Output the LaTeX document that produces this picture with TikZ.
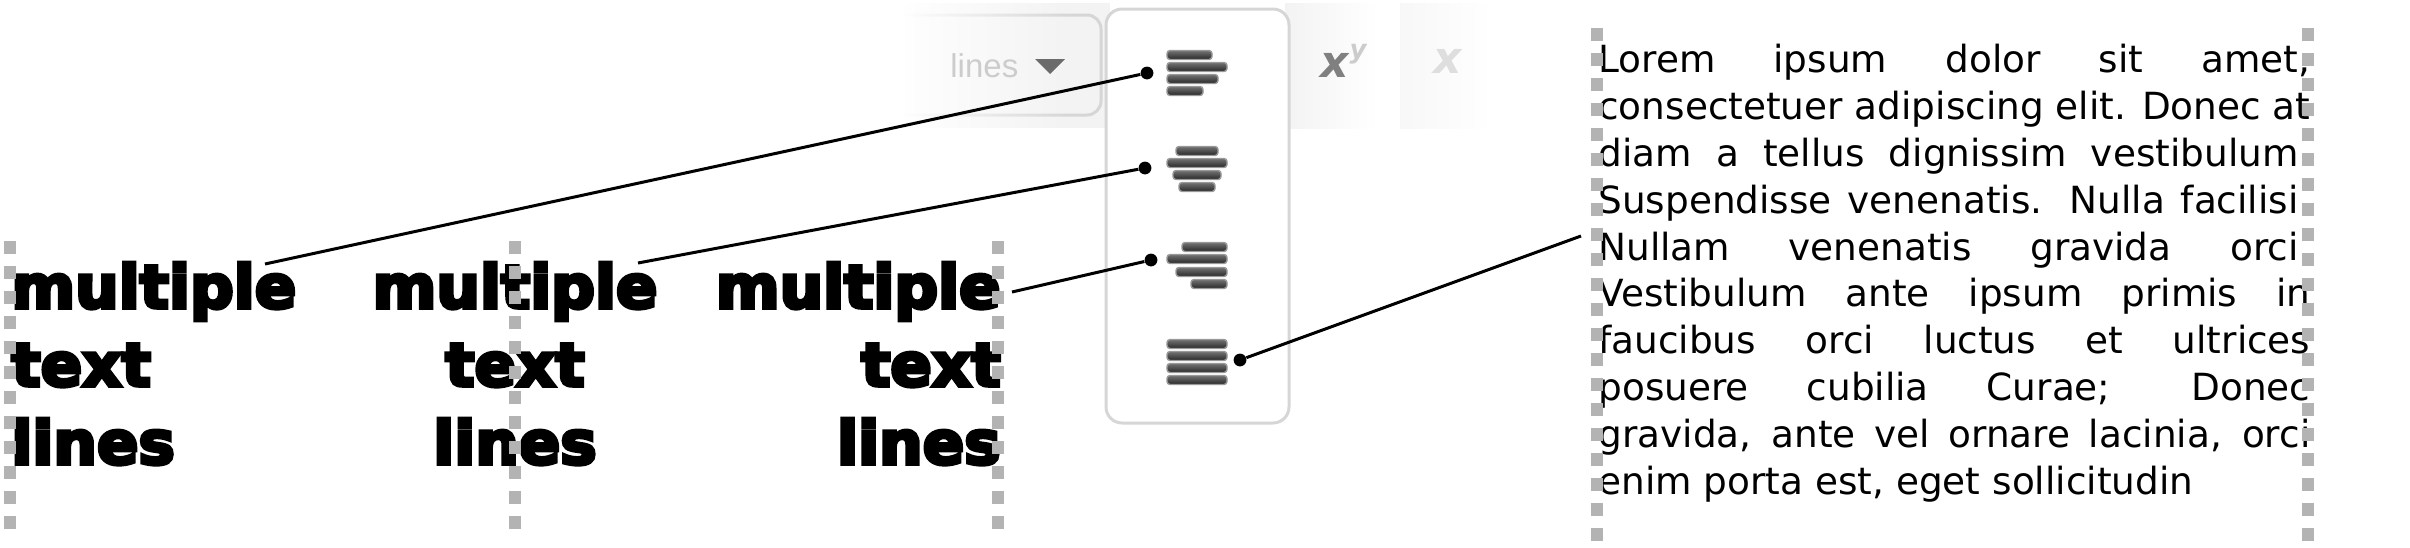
\documentclass[tikz,border=0pt]{standalone}
\usepackage{fontspec}
\usetikzlibrary{fadings}
\setmainfont{DejaVu Sans}
\newfontfamily\heavyfont[FakeBold=6,FakeStretch=1.02]{DejaVu Sans Bold}
\newfontfamily\barefont{Liberation Sans}
\definecolor{guidegray}{HTML}{B3B3B3}
\definecolor{panelgray}{HTML}{D6D6D6}
\definecolor{stripgray}{HTML}{F3F3F3}
\tikzset{
  guide/.style={draw=guidegray,line width=6pt,dash pattern=on 6.25pt off 6.25pt},
  heavytext/.style={inner sep=0pt,font=\heavyfont\fontsize{30}{39}\selectfont},
  loremtext/.style={inner sep=0pt,text width=356pt,align=justify,font=\fontsize{18.7}{23.4}\selectfont},
  pinline/.style={draw=black,line width=1.5pt},
  pindot/.style={circle,fill=black,inner sep=0pt,minimum size=6.4pt},
  iconbar/.style={draw=black!40,line width=0.7pt,rounded corners=1.5pt,top color=black!55,bottom color=black!85},
  tooltext/.style={inner sep=0pt}
}
\begin{document}
\begin{tikzpicture}[x=0.5pt,y=0.5pt,yscale=-1,xscale=1]
        \useasboundingbox (0,0) rectangle (2410,547);

        %Toolbar strip
        \fill [stripgray] (905,3) rectangle (1110,128);
        \draw [panelgray,line width=1.5pt,rounded corners=7pt] (903,15) -- (1101,15) -- (1101,115) -- (903,115);
        \fill [white,path fading=east] (900,0) rectangle (1070,132);
        \fill [left color=stripgray,right color=white] (1285,3) rectangle (1378,128);
        \fill [left color=black!3,right color=white] (1400,3) rectangle (1492,128);

        % Text Node
        \node [tooltext,text=black!20,font=\barefont\fontsize{16.5}{20}\selectfont,anchor=base west] (lineslabel) at (950,77) {lines};
        \node [tooltext,text=black!50,font=\bfseries\itshape\fontsize{22}{26}\selectfont] (powerx) at (1335,65) {x};
        \node [tooltext,text=black!20,font=\bfseries\itshape\fontsize{13}{16}\selectfont] (powery) at (1358,54) {y};
        \node [tooltext,text=black!13,font=\bfseries\itshape\fontsize{22}{26}\selectfont] (plainx) at (1448,61) {x};

        %Dropdown triangle
        \fill [black!58] (1035,59) -- (1065,59) -- (1050,74) -- cycle;

        %Rounded Rect
        \draw [panelgray,fill=white,line width=1.5pt,rounded corners=8pt] (1106,9) rectangle (1289,423);

        %Icon bars
        \foreach \barleft/\barright/\bary in {1167/1212/55,1167/1227/67,1167/1218/79,1167/1203/91,
                                              1176/1218/151,1167/1227/163,1173/1221/175,1179/1215/187,
                                              1182/1227/247,1167/1227/259,1176/1227/272,1191/1227/284,
                                              1167/1227/344,1167/1227/356,1167/1227/368,1167/1227/380}
            \path [iconbar] (\barleft,\bary-4.5) rectangle (\barright,\bary+4.5);

        % Text Node
        \node [heavytext,align=left,anchor=north west] (leftblock) at (11,262) {multiple\\text\\lines};
        \node [heavytext,align=center,anchor=north] (centerblock) at (515,262) {multiple\\text\\lines};
        \node [heavytext,align=right,anchor=north east] (rightblock) at (1001,262) {multiple\\text\\lines};
        \node [loremtext,anchor=north west] (loremblock) at (1598,44) {\hbadness=10000 Lorem ipsum dolor sit amet,\linebreak consectetuer adipiscing elit. Donec at\linebreak diam a tellus dignissim vestibulum.\linebreak Suspendisse venenatis. Nulla facilisi.\linebreak Nullam venenatis gravida orci.\linebreak Vestibulum ante ipsum primis in\linebreak faucibus orci luctus et ultrices\linebreak posuere cubilia Curae; Donec\linebreak gravida, ante vel ornare lacinia, orci\linebreak enim porta est, eget sollicitudin};

        %Guides
        \foreach \guidex in {10,515,998}
            \draw [guide] (\guidex,241) -- (\guidex,528.5);
        \foreach \guidex in {1597,2308}
            \draw [guide] (\guidex,28) -- (\guidex,541);

        %Connector ends
        \node [pindot] (dotleft) at (1147,73) {};
        \node [pindot] (dotcenter) at (1145,168) {};
        \node [pindot] (dotright) at (1151,260) {};
        \node [pindot] (dotjustify) at (1240,360) {};
        \coordinate (fromleft) at (265,264);
        \coordinate (fromcenter) at (638,263);
        \coordinate (fromright) at (1012,292);
        \coordinate (fromlorem) at (1581,236);

        %Straight Lines
        \draw [pinline] (fromleft) -- (dotleft);
        \draw [pinline] (fromcenter) -- (dotcenter);
        \draw [pinline] (fromright) -- (dotright);
        \draw [pinline] (fromlorem) -- (dotjustify);
\end{tikzpicture}
\end{document}
